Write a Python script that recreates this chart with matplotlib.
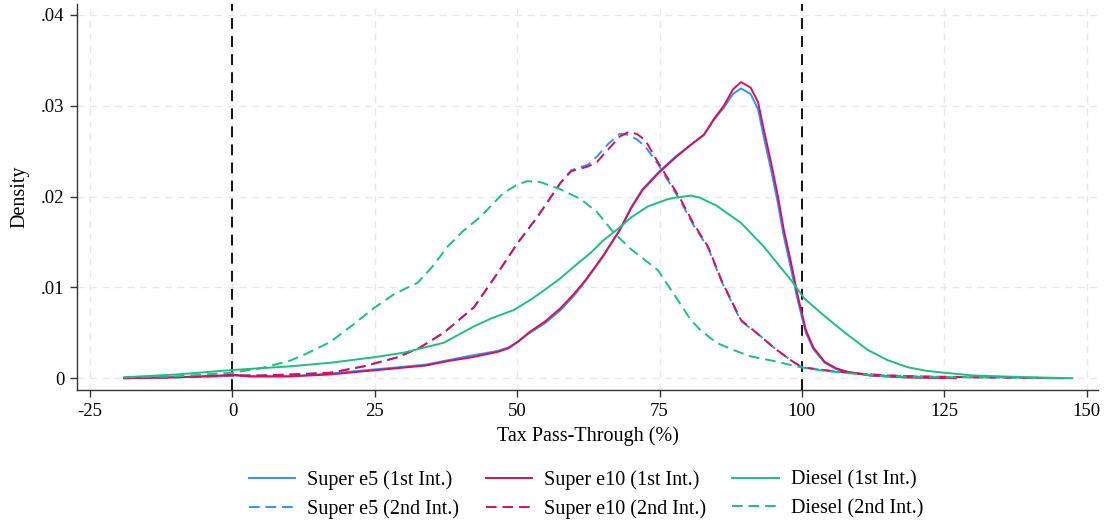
import matplotlib
matplotlib.use("Agg")
import matplotlib.pyplot as plt
from matplotlib.lines import Line2D

plt.rcParams['font.family'] = ['Liberation Serif', 'DejaVu Serif']

# ---- data ----
x_sup1 = [-19, -10, -2, 0, 3, 10, 17, 22, 29, 34, 38, 42, 46.6, 48.5, 50.1, 52, 55, 57.6, 60, 62, 65,
          68, 70, 72, 75, 78, 80.5, 82.8, 84.5, 86.3, 87.9, 89.3, 91, 92.3, 93.3, 94.6, 95.8, 96.8,
          98.1, 99.3, 100.7, 102, 104, 106, 108, 112, 118, 127]
e10_1st = [0, 0.0001, 0.0003, 0.0004, 0.0002, 0.0002, 0.0004, 0.0007, 0.0011, 0.0014, 0.0019, 0.0023,
           0.0029, 0.0033, 0.004, 0.005, 0.0063, 0.0077, 0.0093, 0.0108, 0.0134, 0.0163, 0.0187,
           0.0207, 0.0227, 0.0244, 0.0257, 0.0268, 0.0285, 0.0300, 0.0318, 0.0326, 0.032, 0.0304,
           0.0274, 0.0237, 0.0200, 0.0164, 0.0127, 0.009, 0.0053, 0.0034, 0.0018, 0.0011, 0.0007,
           0.0003, 0.0001, 0.0]
e5_1st = [0, 0.0001, 0.0002, 0.0003, 0.0002, 0.0002, 0.0005, 0.0008, 0.0012, 0.0015, 0.002, 0.0025,
          0.003, 0.0034, 0.004, 0.0049, 0.0061, 0.0075, 0.0091, 0.0107, 0.0133, 0.0163, 0.0188,
          0.0208, 0.0228, 0.0245, 0.0257, 0.0268, 0.0284, 0.0298, 0.0313, 0.0319, 0.0313, 0.0296,
          0.0266, 0.0229, 0.0192, 0.0157, 0.012, 0.0085, 0.005, 0.0032, 0.0017, 0.001, 0.0007,
          0.0003, 0.0001, 0.0]

x_sup2 = [-19, -10, 0, 5, 10, 17.2, 23, 29, 33, 37.1, 42.4, 46.6, 50.1, 53.6, 57.6, 59.5, 62.4, 64,
          66, 68, 69.5, 71, 72.5, 74.7, 78.7, 81, 83.5, 86, 89.3, 92.8, 95, 98, 100, 105, 110, 115,
          120, 130, 146]
e10_2nd = [0, 0.0001, 0.0003, 0.0003, 0.0004, 0.0006, 0.0013, 0.0023, 0.0034, 0.005, 0.0078, 0.0116,
           0.0149, 0.0178, 0.0215, 0.0228, 0.0233, 0.0238, 0.0252, 0.0266, 0.0271, 0.0269, 0.0262,
           0.0238, 0.0197, 0.017, 0.0145, 0.0106, 0.0064, 0.0046, 0.0034, 0.002, 0.0012, 0.0008,
           0.0005, 0.0003, 0.0002, 0.0001, 0.0]
e5_2nd = [0, 0.0001, 0.0003, 0.0003, 0.0004, 0.0006, 0.0013, 0.0023, 0.0034, 0.005, 0.0078, 0.0116,
          0.0149, 0.0178, 0.0215, 0.0229, 0.0235, 0.0244, 0.0258, 0.0269, 0.0268, 0.0263, 0.0255,
          0.0236, 0.0195, 0.0168, 0.0144, 0.0105, 0.0063, 0.0046, 0.0034, 0.002, 0.0012, 0.0008,
          0.0005, 0.0003, 0.0002, 0.0001, 0.0]

x_dsl1 = [-19, -10, 0, 10, 17.2, 24.8, 30, 37.1, 42.4, 45.5, 49.4, 52.5, 55, 57.6, 60, 62.9, 65,
          68.2, 70, 72.9, 76.4, 78, 80.5, 82, 85, 89.3, 93.3, 96, 98.1, 100.4, 103.3, 106, 108, 111.6,
          115, 118.6, 122, 125, 130, 135, 140, 147.5]
diesel_1st = [0.0001, 0.0004, 0.0009, 0.0013, 0.0017, 0.0023, 0.0028, 0.0039, 0.0057, 0.0066, 0.0075,
              0.0087, 0.0098, 0.011, 0.0123, 0.0138, 0.0151, 0.0167, 0.0177, 0.0189, 0.0197, 0.0199,
              0.0201, 0.0199, 0.019, 0.0171, 0.0145, 0.0124, 0.0108, 0.0088, 0.0072, 0.0058, 0.0048,
              0.0031, 0.002, 0.0012, 0.0008, 0.0006, 0.0003, 0.0002, 0.0001, 0.0]

x_dsl2 = [-19, -10, 0, 5, 10, 13, 17.2, 21, 24.8, 28.5, 32.5, 35, 37.8, 40.5, 43.6, 47.6, 50, 51.8,
          54, 57.6, 61.2, 64, 67, 70, 74.7, 78, 80.5, 82.2, 85, 88, 91, 95, 99.8, 104, 109, 115, 125,
          135, 146]
diesel_2nd = [0.0001, 0.0002, 0.0006, 0.0011, 0.0019, 0.0027, 0.004, 0.0058, 0.0077, 0.0093, 0.0105,
              0.0122, 0.0145, 0.0162, 0.0178, 0.0204, 0.0213, 0.0217, 0.0216, 0.0208, 0.0197, 0.0183,
              0.016, 0.0142, 0.0119, 0.0088, 0.0064, 0.0053, 0.0039, 0.0031, 0.0024, 0.0019, 0.0012,
              0.0008, 0.0005, 0.0002, 0.0001, 0.0001, 0.0]

x_ticks = [-25, 0, 25, 50, 75, 100, 125, 150]
y_ticks = [0, 0.01, 0.02, 0.03, 0.04]
y_ticklabels = ["0", ".01", ".02", ".03", ".04"]
ref_lines = [0, 100]

BLUE = "#3490ff"
RED = "#d41159"
GREEN = "#1fbd82"

fig = plt.figure(figsize=(11.07, 5.21), dpi=100)
ax = fig.add_axes([77 / 1107, 1 - 390 / 521, (1098 - 77) / 1107, (390 - 4) / 521])

lw = 1.4
dash = (0, (5.5, 3))
ax.plot(x_sup1, e5_1st, color=BLUE, lw=lw)
ax.plot(x_sup2, e5_2nd, color=BLUE, lw=lw, ls=dash)
ax.plot(x_sup1, e10_1st, color=RED, lw=lw)
ax.plot(x_sup2, e10_2nd, color=RED, lw=lw, ls=dash)
ax.plot(x_dsl1, diesel_1st, color=GREEN, lw=lw)
ax.plot(x_dsl2, diesel_2nd, color=GREEN, lw=lw, ls=dash)

for v in ref_lines:
    ax.axvline(v, color="black", lw=1.3, ls=(0, (6, 4)), zorder=1)

ax.set_xlim(-27.3, 152)
ax.set_ylim(-0.0013, 0.0412)
ax.set_xticks(x_ticks)
ax.set_xticklabels([str(t) for t in x_ticks])
ax.set_yticks(y_ticks)
ax.set_yticklabels(y_ticklabels)
ax.grid(True, color="#e8e8e8", lw=1.0, ls=(0, (5, 4)), zorder=0)
ax.set_axisbelow(True)
for s in ["top", "right"]:
    ax.spines[s].set_visible(False)
for s in ["left", "bottom"]:
    ax.spines[s].set_color("#333333")
    ax.spines[s].set_linewidth(1.0)
ax.tick_params(axis="both", direction="out", length=5, width=1.0, color="#333333",
               labelsize=13.5, pad=4)
ax.set_xlabel("Tax Pass-Through (%)", fontsize=14.5, labelpad=5)
ax.set_ylabel("Density", fontsize=14.5, labelpad=8)

handles = [
    Line2D([], [], color=BLUE, lw=lw), Line2D([], [], color=BLUE, lw=lw, ls=dash),
    Line2D([], [], color=RED, lw=lw), Line2D([], [], color=RED, lw=lw, ls=dash),
    Line2D([], [], color=GREEN, lw=lw), Line2D([], [], color=GREEN, lw=lw, ls=dash),
]
labels = ["Super e5 (1st Int.)", "Super e5 (2nd Int.)",
          "Super e10 (1st Int.)", "Super e10 (2nd Int.)",
          "Diesel (1st Int.)", "Diesel (2nd Int.)"]
fig.legend(handles, labels, ncol=3, loc="center", bbox_to_anchor=(586 / 1107, 1 - 494.5 / 521),
           frameon=False, fontsize=14.5, handlelength=2.3, handletextpad=0.6,
           columnspacing=1.3, labelspacing=0.45, borderpad=0)

fig.savefig("out.png", dpi=100)
